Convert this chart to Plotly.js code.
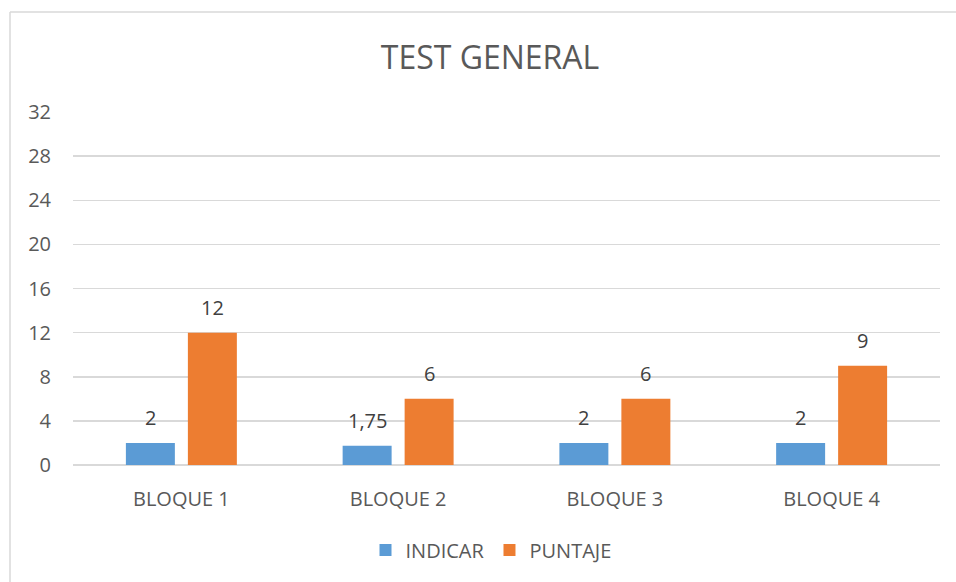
<!DOCTYPE html>
<html><head><meta charset="utf-8">
<script src="https://cdn.plot.ly/plotly-3.0.1.min.js"></script>
<style>html,body{margin:0;padding:0;background:#fff;}#chart{width:956px;height:582px;}</style>
</head><body><div id="chart"></div>
<script>
const categories = ["BLOQUE 1", "BLOQUE 2", "BLOQUE 3", "BLOQUE 4"];
const indicar = [2, 1.75, 2, 2];
const puntaje = [12, 6, 6, 9];
const yTicks = [0, 4, 8, 12, 16, 20, 24, 28, 32];

const FONT = "Open Sans, Noto Sans, sans-serif";
const fmt = v => String(v).replace('.', ',');

const traces = [
  {type:'bar', name:'INDICAR', x:categories, y:indicar, marker:{color:'#5B9BD5'}, hoverinfo:'none'},
  {type:'bar', name:'PUNTAJE', x:categories, y:puntaje, marker:{color:'#ED7D31'}, hoverinfo:'none'}
];

const annotations = [];
[[indicar, -31], [puntaje, 31]].forEach(([arr, dx]) => {
  arr.forEach((v, i) => {
    annotations.push({x:categories[i], y:v, xref:'x', yref:'y', text:fmt(v), showarrow:false,
      xshift:dx, yshift:25, yanchor:'middle', font:{family:FONT, size:20, color:'#404040'}});
  });
});

const L = 73, R = 16, T = 112, B = 117, W = 956, H = 582;
const pw = W - L - R, ph = H - T - B;
const bx = (10 - L) / pw, by = 1 + (T - 12) / ph;

const layout = {
  width:W, height:H,
  margin:{l:L, r:R, t:T, b:B, pad:0},
  paper_bgcolor:'#fff', plot_bgcolor:'#fff',
  font:{family:FONT, color:'#595959', size:19},
  title:{text:'TEST GENERAL', font:{family:FONT, size:32, color:'#595959'}, x:490/W, xanchor:'center', y:1-58/H, yanchor:'middle'},
  barmode:'group', bargap:0.428, bargroupgap:0.21,
  xaxis:{type:'category', showgrid:false, showline:false, zeroline:false, ticks:'', ticklabelstandoff:20,
    tickfont:{family:FONT, size:20, color:'#595959'}},
  yaxis:{range:[0, 32], tickvals:yTicks, ticktext:yTicks.map(String), showgrid:true, gridcolor:'#d9d9d9', gridwidth:1.5,
    zeroline:true, zerolinecolor:'#d9d9d9', zerolinewidth:1.5, showline:false, ticks:'', ticklabelstandoff:21,
    tickfont:{family:FONT, size:20, color:'#595959'}},
  legend:{orientation:'h', x:(491 - L)/pw, xanchor:'center', y:-(550 - (T+ph))/ph, yanchor:'middle',
    font:{family:FONT, size:20, color:'#595959'}, itemwidth:30, traceorder:'normal'},
  annotations:annotations,
  shapes:[
    {type:'line', xref:'paper', yref:'paper', x0:bx, x1:bx, y0:-1, y1:by, line:{color:'#d9d9d9', width:1.5}},
    {type:'line', xref:'paper', yref:'paper', x0:bx, x1:1.2, y0:by, y1:by, line:{color:'#d9d9d9', width:1.5}}
  ],
  showlegend:true
};
Plotly.newPlot('chart', traces, layout, {displayModeBar:false, staticPlot:true});
</script></body></html>
